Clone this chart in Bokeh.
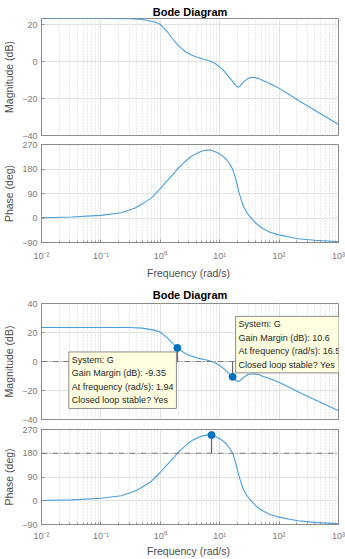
from bokeh.plotting import figure
from bokeh.layouts import column
from bokeh.models import Range1d, FixedTicker, CustomJSTickFormatter, Span, Label
from bokeh.embed import file_html
from bokeh.resources import INLINE

# ---- data ----
mag_freq = [0.01, 0.1, 0.3, 0.5, 0.7, 0.85, 1.0, 1.3, 1.55, 1.94, 2.27, 2.7, 3.35, 4.1,
            4.9, 6.0, 7.3, 8.8, 10.7, 12.3, 13.9, 16.5, 18.5, 20.4, 22.0, 25.0, 30.0,
            36.5, 45.0, 50.0, 74.0, 104.0, 150.0, 238.0, 516.0, 1000.0]
mag_db = [23.5, 23.5, 23.4, 23.0, 22.0, 21.3, 20.2, 16.5, 13.2, 9.35, 7.3, 5.3, 3.7, 2.6,
          1.8, 1.0, 0.0, -1.4, -3.6, -5.6, -7.8, -10.6, -12.8, -13.8, -13.2, -11.0, -9.0,
          -8.4, -9.0, -9.8, -12.2, -14.7, -17.9, -22.0, -28.5, -34.0]

phase_freq = [0.01, 0.032, 0.1, 0.22, 0.37, 0.5, 0.71, 1.0, 1.3, 1.76, 1.94, 2.27, 2.8,
              3.35, 4.1, 4.9, 6.2, 7.3, 9.4, 11.0, 13.0, 15.0, 16.5, 18.0, 19.5, 21.0,
              22.5, 24.8, 29.0, 34.3, 42.0, 50.0, 70.0, 95.0, 150.0, 209.0, 398.0, 1000.0]
phase_deg = [1, 3.5, 9.5, 19, 36, 52, 74, 108, 136, 168, 180, 195, 213,
             227, 237, 245, 249.6, 249, 239, 229, 215, 196, 180, 155, 125, 96,
             74, 45, 18, -2, -22, -35, -52, -61, -70, -76, -82, -87]

gm_freq = [1.94, 16.5]
gm_db = [-9.35, 10.6]
pm_freq = [7.3]
pm_phase = [249.0]
tip_system = "G"

mag_ticks_top = [-40, -20, 0, 20]
mag_ticks_bottom = [-40, -20, 0, 20, 40]
phase_ticks = [-90, 0, 90, 180, 270]
decades = [1e-2, 1e-1, 1e0, 1e1, 1e2, 1e3]

# ---- styling ----
FONT = "Liberation Sans"
CURVE = "#4a9ed9"
MARK = "#0072BD"
W = 345
LEFT = 40
RIGHT = 7

minor = [m * d for d in decades[:-1] for m in range(2, 10)]
sup_fmt = CustomJSTickFormatter(code="""
const e = Math.round(Math.log10(tick));
const sup = {'-':'\u207b','0':'\u2070','1':'\u00b9','2':'\u00b2','3':'\u00b3'};
return '10' + String(e).split('').map(c => sup[c]).join('');
""")

xr = Range1d(0.01, 1000)


def make(height, yr, yticks, ylabel, top, bottom, title=None, title_standoff=1,
         xlabels=False, tick_standoff=8, label_standoff=3):
    p = figure(width=W, height=height, x_axis_type="log", x_range=xr, y_range=yr,
               output_backend="svg", toolbar_location=None,
               min_border_left=LEFT, min_border_right=RIGHT,
               min_border_top=top, min_border_bottom=bottom)
    if title:
        p.title.text = title
        p.title.align = "center"
        p.title.text_font = FONT
        p.title.text_font_size = "11px"
        p.title.text_font_style = "bold"
        p.title.text_color = "#000000"
        p.title.standoff = title_standoff
        p.title.offset = 0
    p.background_fill_color = "white"
    p.border_fill_color = "white"
    p.outline_line_color = "#8c8c8c"
    p.outline_line_width = 1

    p.xaxis.ticker = FixedTicker(ticks=decades, minor_ticks=minor)
    p.xgrid.ticker = FixedTicker(ticks=decades, minor_ticks=minor)
    p.yaxis.ticker = FixedTicker(ticks=yticks)
    p.ygrid.ticker = FixedTicker(ticks=yticks)

    for ax in (p.xaxis, p.yaxis):
        ax.axis_line_color = "#8c8c8c"
        ax.major_tick_line_color = "#8c8c8c"
        ax.minor_tick_line_color = "#8c8c8c"
        ax.major_tick_in = 3
        ax.major_tick_out = 0
        ax.minor_tick_in = 2
        ax.minor_tick_out = 0
        ax.major_label_text_font = FONT
        ax.major_label_text_font_size = "9px"
        ax.major_label_text_color = "#7a7a7a"
        ax.axis_label_text_font = FONT
        ax.axis_label_text_font_size = "10.5px"
        ax.axis_label_text_font_style = "normal"
        ax.axis_label_text_color = "#4d4d4d"
        ax.major_label_standoff = 4
        ax.axis_label_standoff = 4

    p.yaxis.axis_label = ylabel
    if xlabels:
        p.xaxis.formatter = sup_fmt
        p.xaxis.axis_label = "Frequency  (rad/s)"
        p.xaxis.major_label_standoff = tick_standoff
        p.xaxis.axis_label_standoff = label_standoff
    else:
        p.xaxis.visible = False

    p.xgrid.grid_line_color = "#e2e2e2"
    p.xgrid.minor_grid_line_color = "#d2d2d2"
    p.xgrid.minor_grid_line_dash = "1 2"
    p.ygrid.grid_line_color = "#e2e2e2"
    return p


# Top Bode diagram
pA = make(139, Range1d(-40, 23.5), mag_ticks_top, "Magnitude (dB)", 18, 4,
          title="Bode Diagram", title_standoff=2)
pA.line(mag_freq, mag_db, line_color=CURVE, line_width=1.1)

pB = make(142, Range1d(-90, 270), phase_ticks, "Phase (deg)", 5, 35, xlabels=True)
pB.line(phase_freq, phase_deg, line_color=CURVE, line_width=1.1)

# Bottom Bode diagram with stability margins
pC = make(143, Range1d(-40, 40), mag_ticks_bottom, "Magnitude (dB)", 22, 5,
          title="Bode Diagram", title_standoff=6)
pC.add_layout(Span(location=0, dimension="width", line_color="#7a7a7a",
                   line_width=1, line_dash="6 2 1 2"))
pC.line(mag_freq, mag_db, line_color=CURVE, line_width=1.1)
gm_pt = [-g for g in gm_db]
pC.segment(x0=gm_freq, y0=gm_pt, x1=gm_freq, y1=[0] * len(gm_freq),
           line_color="#555555", line_width=1)
pC.scatter(gm_freq, gm_pt, size=7, fill_color=MARK, line_color=MARK)

tips = []
for f, g in zip(gm_freq, gm_db):
    tips.append("System: %s\nGain Margin (dB): %s\nAt frequency (rad/s): %s\nClosed loop stable? Yes"
                % (tip_system, ("%g" % g), ("%g" % f)))

tip_style = dict(text_font=FONT, text_font_size="9px", text_color="#262626",
                 text_line_height=1.35, text_align="left",
                 background_fill_color="#ffffe1", border_line_color="#8c8c8c",
                 padding=3)
lab1 = Label(x=gm_freq[0], y=gm_pt[0], x_offset=-1, y_offset=-4, text=tips[0],
             anchor="top_right", **tip_style)
lab2 = Label(x=gm_freq[1], y=gm_pt[1], x_offset=3, y_offset=4, text=tips[1],
             anchor="bottom_left", **tip_style)
pC.add_layout(lab1)
pC.add_layout(lab2)

pD = make(135, Range1d(-90, 270), phase_ticks, "Phase (deg)", 5, 28, xlabels=True,
          tick_standoff=6, label_standoff=1)
pD.add_layout(Span(location=180, dimension="width", line_color="#7a7a7a",
                   line_width=1, line_dash="6 2 1 2"))
pD.line(phase_freq, phase_deg, line_color=CURVE, line_width=1.1)
pD.segment(x0=pm_freq, y0=pm_phase, x1=pm_freq, y1=[180] * len(pm_freq),
           line_color="#555555", line_width=1)
pD.scatter(pm_freq, pm_phase, size=7, fill_color=MARK, line_color=MARK)

layout = column(pA, pB, pC, pD, spacing=0)
open("out.html", "w").write(file_html(layout, INLINE))
